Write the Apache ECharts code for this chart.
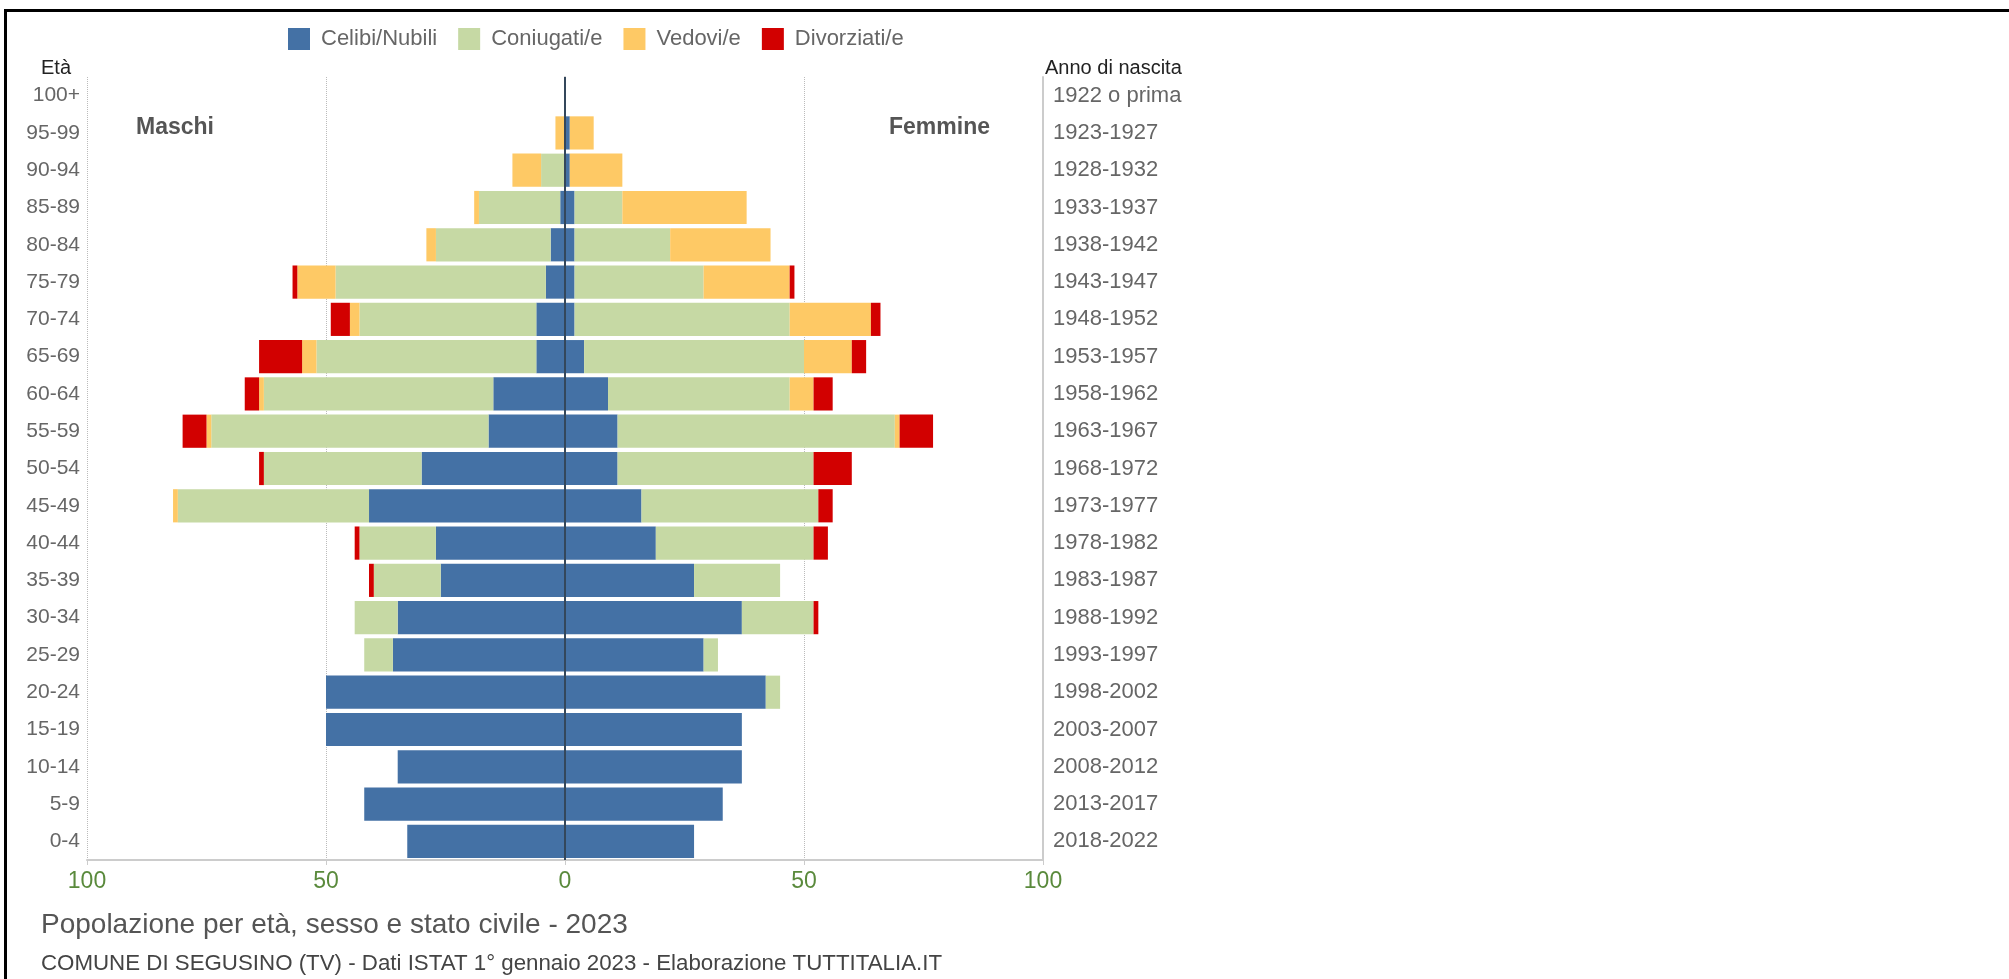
<!DOCTYPE html>
<html>
<head>
<meta charset="utf-8">
<script src="https://cdn.jsdelivr.net/npm/echarts@6/dist/echarts.min.js"></script>
<style>
  html, body { margin: 0; padding: 0; background: #fff; }
  #chart { position: absolute; left: 0; top: 0; width: 2009px; height: 979px; }
  #frame { position: absolute; left: 4px; top: 9px; width: 2005px; height: 970px;
           border-left: 3px solid #000; border-top: 3px solid #000; box-sizing: border-box; pointer-events: none; }
</style>
</head>
<body>
<div id="chart"></div>
<div id="frame"></div>
<script>
const ages = ['0-4','5-9','10-14','15-19','20-24','25-29','30-34','35-39','40-44','45-49','50-54',
  '55-59','60-64','65-69','70-74','75-79','80-84','85-89','90-94','95-99','100+']
const years = ['2018-2022','2013-2017','2008-2012','2003-2007','1998-2002','1993-1997','1988-1992',
  '1983-1987','1978-1982','1973-1977','1968-1972','1963-1967','1958-1962','1953-1957','1948-1952',
  '1943-1947','1938-1942','1933-1937','1928-1932','1923-1927','1922 o prima']

// maschi (0-4 ... 100+)
const celibiM     = [33, 42, 35, 50, 50, 36, 35, 26, 27, 41, 30, 16, 15, 6, 6, 4, 3, 1, 0, 0, 0]
const coniugatiM  = [0, 0, 0, 0, 0, 6, 9, 14, 16, 40, 33, 58, 48, 46, 37, 44, 24, 17, 5, 0, 0]
const vedoviM     = [0, 0, 0, 0, 0, 0, 0, 0, 0, 1, 0, 1, 1, 3, 2, 8, 2, 1, 6, 2, 0]
const divorziatiM = [0, 0, 0, 0, 0, 0, 0, 1, 1, 0, 1, 5, 3, 9, 4, 1, 0, 0, 0, 0, 0]

// femmine
const nubiliF     = [27, 33, 37, 37, 42, 29, 37, 27, 19, 16, 11, 11, 9, 4, 2, 2, 2, 2, 1, 1, 0]
const coniugateF  = [0, 0, 0, 0, 3, 3, 15, 18, 33, 37, 41, 58, 38, 46, 45, 27, 20, 10, 0, 0, 0]
const vedoveF     = [0, 0, 0, 0, 0, 0, 0, 0, 0, 0, 0, 1, 5, 10, 17, 18, 21, 26, 11, 5, 0]
const divorziateF = [0, 0, 0, 0, 0, 0, 1, 0, 3, 3, 8, 7, 4, 3, 2, 1, 0, 0, 0, 0, 0]

const statusNames = ['Celibi/Nubili', 'Coniugati/e', 'Vedovi/e', 'Divorziati/e']
const colors = ['#4471a5', '#c6d9a4', '#fec965', '#d20000']

const FONT = "'Liberation Sans', Arial, sans-serif"
const chart = echarts.init(document.getElementById('chart'))

function barSeries(name, values, color, male) {
  return {
    name: name,
    type: 'bar',
    stack: 'tot',
    barCategoryGap: '11%',
    data: values.map(v => male ? -v : v),
    itemStyle: { color: color },
    emphasis: { disabled: true }
  }
}

const maleData = [celibiM, coniugatiM, vedoviM, divorziatiM]
const femaleData = [nubiliF, coniugateF, vedoveF, divorziateF]
const series = []
statusNames.forEach((n, i) => series.push(barSeries(n, maleData[i], colors[i], true)))
statusNames.forEach((n, i) => series.push(barSeries(n, femaleData[i], colors[i], false)))
series[series.length - 1].markLine = {
  silent: true,
  symbol: 'none',
  label: { show: false },
  lineStyle: { color: '#34475b', width: 2, type: 'solid' },
  data: [{ xAxis: 0 }]
}

const option = {
  backgroundColor: '#fff',
  animation: false,
  textStyle: { fontFamily: FONT },
  legend: {
    data: statusNames,
    left: 283,
    top: 23,
    icon: 'rect',
    itemWidth: 22,
    itemHeight: 22,
    itemGap: 21,
    textStyle: { fontSize: 22, color: '#666', fontFamily: FONT, padding: [0, 0, 0, 6] }
  },
  title: {
    text: 'Popolazione per età, sesso e stato civile - 2023',
    subtext: 'COMUNE DI SEGUSINO (TV) - Dati ISTAT 1° gennaio 2023 - Elaborazione TUTTITALIA.IT',
    left: 36,
    top: 906,
    itemGap: 14,
    textStyle: { fontSize: 28, fontWeight: 'normal', color: '#555', fontFamily: FONT },
    subtextStyle: { fontSize: 22.3, color: '#444', fontFamily: FONT }
  },
  grid: { left: 87, right: 966, top: 77, bottom: 119 },
  xAxis: {
    type: 'value',
    min: -100,
    max: 100,
    interval: 50,
    axisLine: { show: true, lineStyle: { color: '#ccc', width: 2 } },
    axisTick: { show: true, length: 5, lineStyle: { color: '#ccc' } },
    axisLabel: {
      color: '#5a8a3c', fontSize: 23, margin: 10, fontFamily: FONT,
      formatter: v => Math.abs(v)
    },
    splitLine: { show: true, lineStyle: { color: '#bbb', type: 'dotted' } }
  },
  yAxis: [{
    type: 'category',
    data: ages,
    position: 'left',
    axisLine: { show: true, lineStyle: { color: '#ccc', width: 2 } },
    axisTick: { show: false },
    axisLabel: { color: '#666', fontSize: 21, margin: 7, fontFamily: FONT }
  }, {
    type: 'category',
    data: years,
    position: 'right',
    axisLine: { show: true, lineStyle: { color: '#ccc', width: 2 } },
    axisTick: { show: false },
    axisLabel: { color: '#666', fontSize: 22, margin: 10, fontFamily: FONT }
  }],
  graphic: [
    { type: 'text', left: 41, top: 58, style: { text: 'Età', fill: '#222', font: '20px ' + FONT } },
    { type: 'text', left: 1045, top: 58, style: { text: 'Anno di nascita', fill: '#222', font: '20px ' + FONT } },
    { type: 'text', left: 136, top: 116, style: { text: 'Maschi', fill: '#555', font: 'bold 23px ' + FONT } },
    { type: 'text', left: 889, top: 116, style: { text: 'Femmine', fill: '#555', font: 'bold 23px ' + FONT } }
  ],
  series: series
}

chart.setOption(option)
</script>
</body>
</html>
